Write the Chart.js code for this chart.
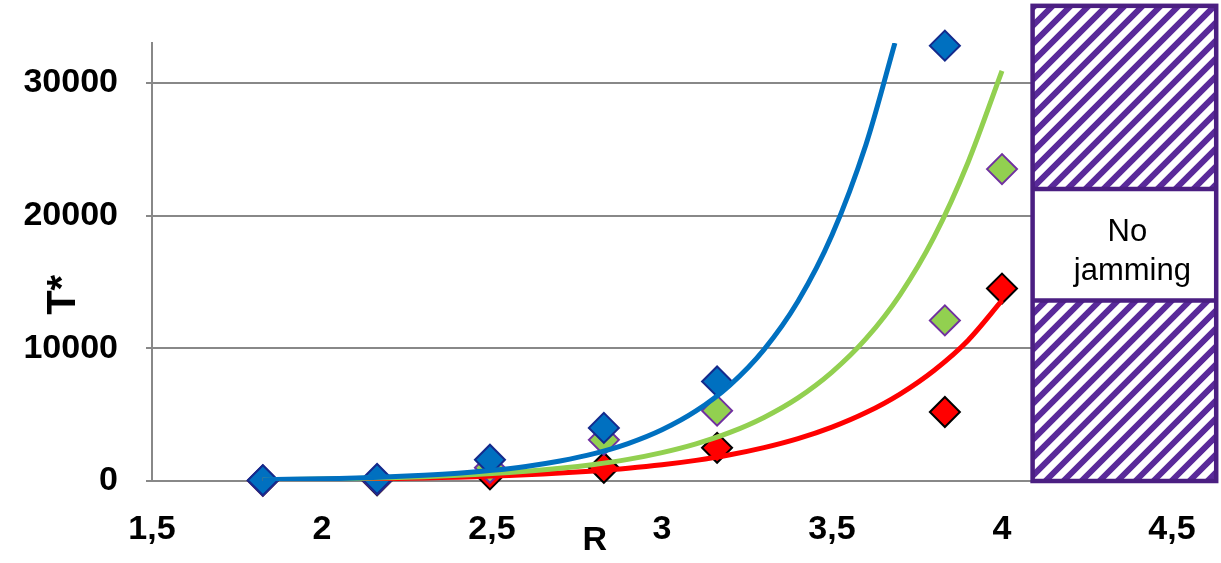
<!DOCTYPE html>
<html><head><meta charset="utf-8">
<script src="https://cdn.jsdelivr.net/npm/chart.js@4/dist/chart.umd.min.js"></script>
<style>html,body{margin:0;padding:0;background:#fff;overflow:hidden}#wrap{width:1221px;height:563px;position:relative}</style>
</head><body><div id="wrap"><canvas id="c" width="1221" height="563"></canvas></div>
<script>
// ---- data ----
const R = [1.826, 2.162, 2.494, 2.829, 3.162, 3.832, 4.0];
const blueT  = [60, 150, 1600, 4000, 7500, 32800, null];
const greenT = [40, 100, 1000, 3100, 5300, 12100, 23500];
const redT   = [20, 50, 500, 1000, 2500, 5200, 14500];

// trend curves
const blueFitR  = [1.826, 1.9, 2.0, 2.1, 2.2, 2.3, 2.4, 2.5, 2.6, 2.7, 2.8, 2.9, 3.0, 3.1, 3.2, 3.3, 3.4, 3.5, 3.6, 3.685];
const blueFitT  = [97, 123, 168, 230, 314, 430, 588, 805, 1100, 1510, 2060, 2820, 3860, 5280, 7230, 9900, 13540, 18530, 25360, 33000];
const greenFitR = [1.826, 1.9, 2.0, 2.1, 2.2, 2.3, 2.4, 2.5, 2.6, 2.7, 2.8, 2.9, 3.0, 3.1, 3.2, 3.3, 3.4, 3.5, 3.6, 3.7, 3.8, 3.9, 4.0];
const greenFitT = [91, 111, 146, 191, 249, 326, 427, 558, 730, 955, 1250, 1630, 2140, 2800, 3660, 4790, 6260, 8200, 10720, 14030, 18370, 24000, 30900];
const redFitR   = [1.826, 1.9, 2.0, 2.1, 2.2, 2.3, 2.4, 2.5, 2.6, 2.7, 2.8, 2.9, 3.0, 3.1, 3.2, 3.3, 3.4, 3.5, 3.6, 3.7, 3.8, 3.9, 4.0];
const redFitT   = [73, 87, 111, 141, 179, 228, 289, 368, 468, 595, 756, 961, 1221, 1553, 1974, 2510, 3189, 4056, 5155, 6554, 8332, 10590, 13600];

const yTicks = [0, 10000, 20000, 30000];
const xRange = [1.5, 4.5];
const yRange = [0, 33000];
const zoneR = [4.09, 4.63];
const zoneT = [0, 35800];
const bandT = [13600, 22000];
const bandText = ['No', 'jamming'];
const xTitle = 'R';
const yTitle = 'T*';

const pts = (xs, ys) => xs.map((v, i) => ({x: v, y: ys[i]})).filter(p => p.y !== null);

const overlay = {
  id: 'overlay',
  afterDraw(chart) {
    const {ctx, scales: {x, y}, chartArea: ca} = chart;
    const x0 = x.getPixelForValue(zoneR[0]), x1 = x.getPixelForValue(zoneR[1]);
    const yT = y.getPixelForValue(zoneT[1]), yB = y.getPixelForValue(zoneT[0]);
    const bHi = y.getPixelForValue(bandT[1]), bLo = y.getPixelForValue(bandT[0]);
    const purple = '#4B1F82';
    ctx.save();
    ctx.fillStyle = '#fff';
    ctx.fillRect(x0, yT, x1 - x0, yB - yT);
    ctx.beginPath(); ctx.rect(x0, yT, x1 - x0, yB - yT); ctx.clip();
    ctx.strokeStyle = '#5A2A9A';
    ctx.lineWidth = 6;
    const h = yB - yT, step = 18;
    ctx.beginPath();
    for (let k = -h - step; k < (x1 - x0) + step; k += step) {
      ctx.moveTo(x0 + k, yB + 2);
      ctx.lineTo(x0 + k + h + 4, yT - 2);
    }
    ctx.stroke();
    ctx.restore();
    ctx.save();
    ctx.fillStyle = '#fff';
    ctx.fillRect(x0, bHi, x1 - x0, bLo - bHi);
    ctx.strokeStyle = purple; ctx.lineWidth = 4.5;
    ctx.strokeRect(x0, yT, x1 - x0, yB - yT);
    ctx.beginPath();
    ctx.moveTo(x0, bHi); ctx.lineTo(x1, bHi);
    ctx.moveTo(x0, bLo); ctx.lineTo(x1, bLo);
    ctx.stroke();
    ctx.fillStyle = '#000';
    ctx.font = '31px "Liberation Sans", Arial, sans-serif';
    ctx.textAlign = 'center'; ctx.textBaseline = 'middle';
    const cx = (x0 + x1) / 2 + 3, cy = (bHi + bLo) / 2;
    ctx.fillText(bandText[0], cx, cy - 12);
    ctx.fillText(bandText[1], cx + 5, cy + 27);
    // axis titles
    ctx.textBaseline = 'alphabetic';
    ctx.font = 'bold 34px "Liberation Sans", Arial, sans-serif';
    ctx.fillText(xTitle, ca.left + 0.434 * (ca.right - ca.left), 550);
    ctx.font = 'bold 40px "Liberation Sans", Arial, sans-serif';
    ctx.translate(75, ca.top + 0.575 * (ca.bottom - ca.top));
    ctx.rotate(-Math.PI / 2);
    ctx.fillText(yTitle, 0, 0);
    ctx.restore();
  }
};

const xTickFont = {family: '"Liberation Sans", Arial, sans-serif', size: 34, weight: 'bold', lineHeight: 2.85};
const yTickFont = {family: '"Liberation Sans", Arial, sans-serif', size: 34, weight: 'bold', lineHeight: 0.5};

new Chart(document.getElementById('c'), {
  type: 'scatter',
  data: {
    datasets: [
      {type: 'line', data: pts(blueFitR, blueFitT), borderColor: '#0070C0', borderWidth: 5, pointRadius: 0, tension: 0.3, fill: false, order: 1},
      {type: 'line', data: pts(greenFitR, greenFitT), borderColor: '#92D050', borderWidth: 5, pointRadius: 0, tension: 0.3, fill: false, order: 2},
      {type: 'line', data: pts(redFitR, redFitT), borderColor: '#FF0000', borderWidth: 5, pointRadius: 0, tension: 0.3, fill: false, order: 3},
      {data: pts(R, blueT), pointStyle: 'rectRot', pointRadius: 15, backgroundColor: '#0070C0', borderColor: '#142A8C', borderWidth: 2, showLine: false, clip: false, order: 4},
      {data: pts(R, greenT), pointStyle: 'rectRot', pointRadius: 15, backgroundColor: '#92D050', borderColor: '#7030A0', borderWidth: 2, showLine: false, clip: false, order: 5},
      {data: pts(R, redT), pointStyle: 'rectRot', pointRadius: 15, backgroundColor: '#FF0000', borderColor: '#000000', borderWidth: 2, showLine: false, clip: false, order: 6}
    ]
  },
  options: {
    responsive: false, animation: false, devicePixelRatio: 1,
    layout: {padding: {top: 43, right: 49, left: 0, bottom: 0}},
    plugins: {legend: {display: false}, tooltip: {enabled: false}},
    scales: {
      x: {
        type: 'linear', min: xRange[0], max: xRange[1],
        ticks: {stepSize: 0.5, font: xTickFont, color: '#000', padding: 0, callback: v => String(v).replace('.', ',')},
        grid: {display: false, drawTicks: false},
        border: {display: false},
        afterFit: s => { s.height = 82; }
      },
      y: {
        type: 'linear', min: yRange[0], max: yRange[1],
        afterBuildTicks: s => { s.ticks = yTicks.map(v => ({value: v})); },
        ticks: {font: yTickFont, color: '#000', padding: 28, callback: v => String(v)},
        grid: {color: '#888888', lineWidth: 2, tickLength: 6},
        border: {color: '#888888', width: 2},
        afterFit: s => { s.width = 152; }
      }
    }
  },
  plugins: [overlay]
});
</script></body></html>
